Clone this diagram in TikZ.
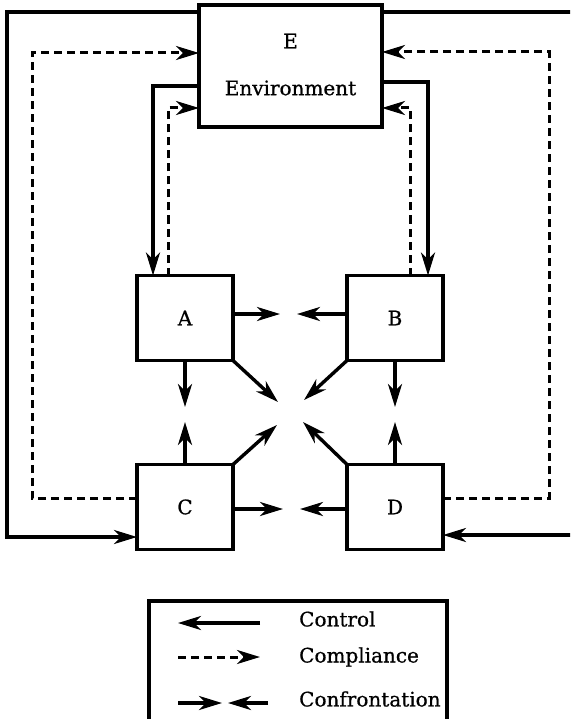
\documentclass[tikz,border=0pt]{standalone}
\usepackage{fontspec}
\setmainfont[FakeBold=0.8]{DejaVu Serif}
\usetikzlibrary{arrows.meta,calc}
\begin{document}
\begin{tikzpicture}[x=1pt,y=-1pt,
  tip/.style={-{Stealth[length=23pt,width=14pt,inset=7pt]}},
  ctrl/.style={line width=3.4pt,tip},
  comp/.style={line width=3pt,dash pattern=on 8pt off 5pt,tip},
  conf/.style={line width=3.4pt,tip},
  agent/.style={draw,line width=3.4pt,outer sep=0pt,minimum width=96pt,minimum height=85pt,inner sep=0pt},
  lbl/.style={font=\fontsize{20}{23}\selectfont,inner sep=0pt}]
\path[use as bounding box,clip] (0,0) rectangle (570,719);

% boxes
\node[agent,minimum width=183pt,minimum height=122pt] (E) at (290.5,66) {};
\node[lbl] (Etitle) at (290.5,41) {E};
\node[lbl] (Ename) at (290.5,88) {Environment};
\node[agent] (A) at (185,318) {}; \node[lbl] (Alab) at (A) {A};
\node[agent] (B) at (395,318) {}; \node[lbl] (Blab) at (B) {B};
\node[agent] (C) at (185,507) {}; \node[lbl] (Clab) at (C) {C};
\node[agent] (D) at (395,507) {}; \node[lbl] (Dlab) at (D) {D};

% corners of the loops
\coordinate (oL1) at (7,12);    \coordinate (oL2) at (7,537);
\coordinate (dL1) at (32,53);   \coordinate (dL2) at (32,498);
\coordinate (iL1) at (153,86);  \coordinate (iL2) at (168,108);
\coordinate (iR1) at (428,82);  \coordinate (iR2) at (410,108);
\coordinate (dR1) at (549,52);  \coordinate (dR2) at (549,498);
\coordinate (oR1) at (576,12);  \coordinate (oR2) at (576,535);

% outer loops
\draw[ctrl] (E.west|-oL1) -- (oL1) -- (oL2) -- (C.west|-oL2);
\draw[comp] (C.west|-dL2) -- (dL2) -- (dL1) -- (E.west|-dL1);
\draw[ctrl] (E.east|-oR1) -- (oR1) -- (oR2) -- (D.east|-oR2);
\draw[comp] (D.east|-dR2) -- (dR2) -- (dR1) -- (E.east|-dR1);

% inner loops
\draw[ctrl] (E.west|-iL1) -- (iL1) -- (iL1|-A.north);
\draw[comp] (iL2|-A.north) -- (iL2) -- (E.west|-iL2);
\draw[ctrl] (E.east|-iR1) -- (iR1) -- (iR1|-B.north);
\draw[comp] (iR2|-B.north) -- (iR2) -- (E.east|-iR2);

% confrontation targets
\coordinate (hAB1) at (280,314); \coordinate (hAB2) at (297,314);
\coordinate (vAC1) at (185,407); \coordinate (vAC2) at (185,422);
\coordinate (dA) at (278,402);   \coordinate (dC) at (277,425);
\coordinate (dB) at (304,400);   \coordinate (dD) at (303,422);
\coordinate (vBD1) at (395,407); \coordinate (vBD2) at (395,422);
\coordinate (hCD1) at (283,509); \coordinate (hCD2) at (300,509);

\draw[conf] (A.east|-hAB1) -- (hAB1);
\draw[conf] (B.west|-hAB2) -- (hAB2);
\draw[conf] (A.south) -- (vAC1);
\draw[conf] (C.north) -- (vAC2);
\draw[conf] (A.south east) -- (dA);
\draw[conf] (C.north east) -- (dC);
\draw[conf] (B.south west) -- (dB);
\draw[conf] (D.north west) -- (dD);
\draw[conf] (B.south) -- (vBD1);
\draw[conf] (D.north) -- (vBD2);
\draw[conf] (C.east|-hCD1) -- (hCD1);
\draw[conf] (D.west|-hCD2) -- (hCD2);

% legend
\node[draw,line width=3.4pt,outer sep=0pt,minimum width=298pt,minimum height=139pt] (key) at (298,670.5) {};
\coordinate (k1a) at (260,623); \coordinate (k1b) at (178,623);
\coordinate (k2a) at (178,657); \coordinate (k2b) at (260,657);
\coordinate (k3a) at (178,703); \coordinate (k3b) at (222,703);
\coordinate (k3c) at (268,703); \coordinate (k3d) at (228,703);
\draw[ctrl] (k1a) -- (k1b);
\draw[comp] (k2a) -- (k2b);
\draw[conf] (k3a) -- (k3b);
\draw[conf] (k3c) -- (k3d);
\node[lbl,anchor=west] (t1) at (299,619) {Control};
\node[lbl,anchor=west] (t2) at (299,657) {Compliance};
\node[lbl,anchor=west] (t3) at (299,699) {Confrontation};
\end{tikzpicture}
\end{document}
